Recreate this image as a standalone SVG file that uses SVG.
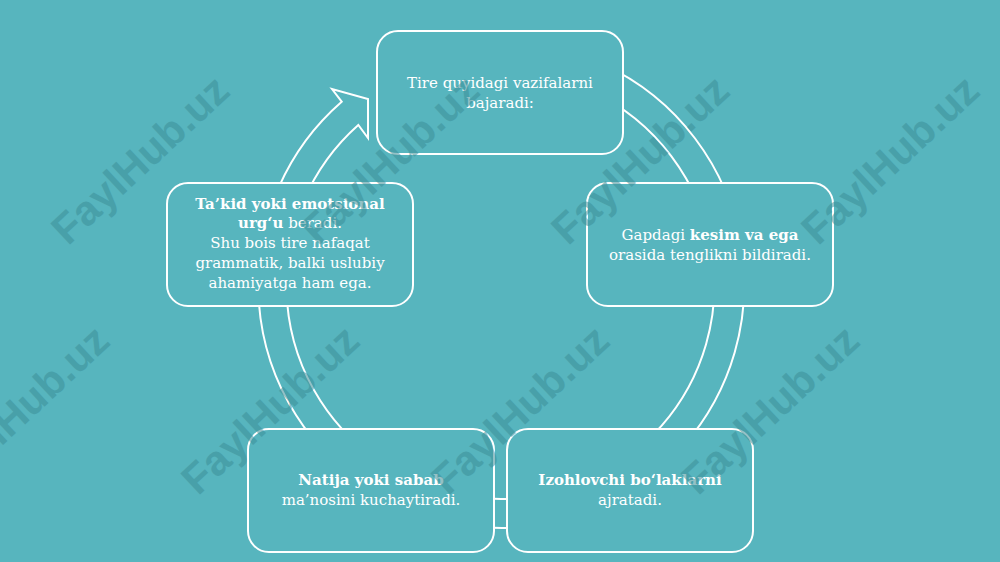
<svg xmlns="http://www.w3.org/2000/svg" width="1000" height="562" viewBox="0 0 1000 562">
<style>
.bg{fill:#57b5be}
.box{fill:#57b5be;stroke:#ffffff;stroke-width:2}
.ring{fill:#57b5be;stroke:#ffffff;stroke-width:2;stroke-linejoin:miter}
.t{font-family:"DejaVu Serif","Liberation Serif",serif;font-size:15px;fill:#ffffff;text-anchor:middle}
.b{font-weight:bold}
.wm{font-family:"Liberation Sans",Arial,sans-serif;font-weight:bold;font-size:42px;fill:#3d8f99;opacity:0.55;text-anchor:middle}
</style>
<rect class="bg" x="0" y="0" width="1000" height="562"/>
<g id="connectors">
<path class="ring" d="M500,42 A243,243 0 1 1 341.7,101.7 L332,89 L368,99 L368,138 L358.3,125 A214,214 0 1 0 500,71 Z"/>
</g>
<g id="node-top">
<rect class="box" x="377" y="31" width="246" height="123" rx="21"/>
<text class="t" x="500" y="88">Tire quyidagi vazifalarni</text>
<text class="t" x="500" y="108">bajaradi:</text>
</g>
<g id="node-right">
<rect class="box" x="587" y="183" width="246" height="123" rx="21"/>
<text class="t" x="710" y="240">Gapdagi <tspan class="b">kesim va ega</tspan></text>
<text class="t" x="710" y="260">orasida tenglikni bildiradi.</text>
</g>
<g id="node-bottom-right">
<rect class="box" x="507" y="429" width="246" height="123" rx="21"/>
<text class="t b" x="630" y="485">Izohlovchi bo‘laklarni</text>
<text class="t" x="630" y="505">ajratadi.</text>
</g>
<g id="node-bottom-left">
<rect class="box" x="248" y="429" width="246" height="123" rx="21"/>
<text class="t b" x="371" y="485">Natija yoki sabab</text>
<text class="t" x="371" y="505">ma’nosini kuchaytiradi.</text>
</g>
<g id="node-left">
<rect class="box" x="167" y="183" width="246" height="123" rx="21"/>
<text class="t b" x="290" y="209">Ta’kid yoki emotsional</text>
<text class="t" x="290" y="228"><tspan class="b">urg‘u</tspan> beradi.</text>
<text class="t" x="290" y="248">Shu bois tire nafaqat</text>
<text class="t" x="290" y="268">grammatik, balki uslubiy</text>
<text class="t" x="290" y="288">ahamiyatga ham ega.</text>
</g>
<g id="watermarks">
<text class="wm" transform="translate(150,170) rotate(-43)">FaylHub.uz</text>
<text class="wm" transform="translate(400,170) rotate(-43)">FaylHub.uz</text>
<text class="wm" transform="translate(650,170) rotate(-43)">FaylHub.uz</text>
<text class="wm" transform="translate(900,170) rotate(-43)">FaylHub.uz</text>
<text class="wm" transform="translate(30,420) rotate(-43)">FaylHub.uz</text>
<text class="wm" transform="translate(280,420) rotate(-43)">FaylHub.uz</text>
<text class="wm" transform="translate(530,420) rotate(-43)">FaylHub.uz</text>
<text class="wm" transform="translate(780,420) rotate(-43)">FaylHub.uz</text>
</g>
</svg>
